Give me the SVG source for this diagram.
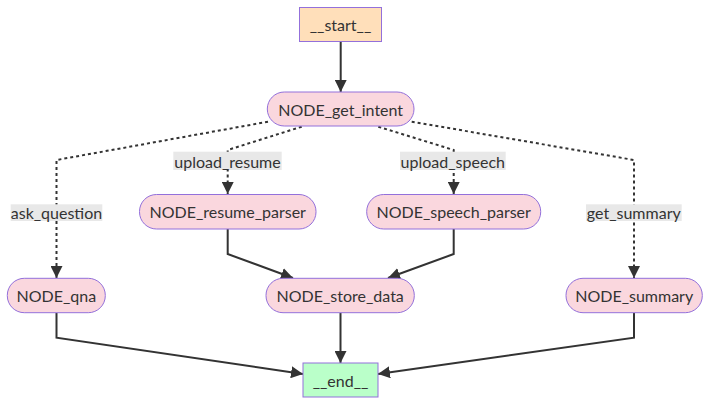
<svg xmlns="http://www.w3.org/2000/svg" width="710" height="405" viewBox="0 0 710 405">
<defs>
<marker id="arr" viewBox="0 0 10 10" refX="10" refY="5" markerWidth="12" markerHeight="12" markerUnits="userSpaceOnUse" orient="auto">
<path d="M0,0 L10,5 L0,10 z" fill="#333"/>
</marker>
<style>
.n{fill:#fad7de;stroke:#9370db;stroke-width:1}
.s{fill:#ffdfba;stroke:#9370db;stroke-width:1}
.e{fill:#baffc9;stroke:#9370db;stroke-width:1}
.t{font-family:Lato,"Liberation Sans",sans-serif;font-size:16px;fill:#333;text-anchor:middle;dominant-baseline:central}
.l{fill:#e8e8e8}
.c{fill:none;stroke:#333;stroke-width:2;marker-end:url(#arr)}
.d{stroke-dasharray:3 3}
</style>
</defs>
<rect width="710" height="405" fill="#fff"/>
<g id="connectors">
<path class="c" d="M340.7,42 L340.7,92"/>
<path class="c d" d="M268,121.7 L56.5,160 L56.5,278"/>
<path class="c d" d="M301.7,126.7 L227.7,150 L227.7,194"/>
<path class="c d" d="M378.3,126.7 L453.7,150 L453.7,194"/>
<path class="c d" d="M411.7,121.7 L634,160 L634,278"/>
<path class="c" d="M227.7,229 L227.7,254 L293,278"/>
<path class="c" d="M453.7,229 L453.7,254 L388,278"/>
<path class="c" d="M340.5,313 L340.5,363"/>
<path class="c" d="M56.5,313 L56.5,337.7 L303,374"/>
<path class="c" d="M634,313 L634,337.7 L378,374"/>
</g>
<g id="edge-labels">
<rect class="l" x="173.3" y="151.7" width="108.4" height="18.3"/>
<text class="t" x="227.5" y="161">upload_resume</text>
<rect class="l" x="400" y="151.7" width="105.7" height="18.3"/>
<text class="t" x="452.8" y="161">upload_speech</text>
<rect class="l" x="10.7" y="204.3" width="91.6" height="16.7"/>
<text class="t" x="56.5" y="212.7">ask_question</text>
<rect class="l" x="586" y="204.3" width="95.7" height="16.7"/>
<text class="t" x="633.8" y="212.7">get_summary</text>
</g>
<g id="start"><rect class="s" x="299.5" y="7.5" width="82" height="34"/><text class="t" x="340.5" y="24.5">__start__</text></g>
<g id="get_intent"><rect class="n" x="267.3" y="92" width="146.7" height="34" rx="17"/><text class="t" x="340.7" y="109">NODE_get_intent</text></g>
<g id="resume_parser"><rect class="n" x="139.5" y="194.5" width="176.5" height="34.5" rx="17"/><text class="t" x="227.7" y="211.7">NODE_resume_parser</text></g>
<g id="speech_parser"><rect class="n" x="366.7" y="194.5" width="174" height="34.5" rx="17"/><text class="t" x="453.7" y="211.7">NODE_speech_parser</text></g>
<g id="qna"><rect class="n" x="7.3" y="278.3" width="98" height="34.4" rx="17"/><text class="t" x="56.3" y="295.5">NODE_qna</text></g>
<g id="store_data"><rect class="n" x="266" y="278.3" width="148.3" height="34.4" rx="17"/><text class="t" x="340.2" y="295.5">NODE_store_data</text></g>
<g id="summary"><rect class="n" x="566" y="278.3" width="136.3" height="34.4" rx="17"/><text class="t" x="634.2" y="295.5">NODE_summary</text></g>
<g id="end"><rect class="e" x="303" y="363" width="75" height="34"/><text class="t" x="340.5" y="380">__end__</text></g>
</svg>
